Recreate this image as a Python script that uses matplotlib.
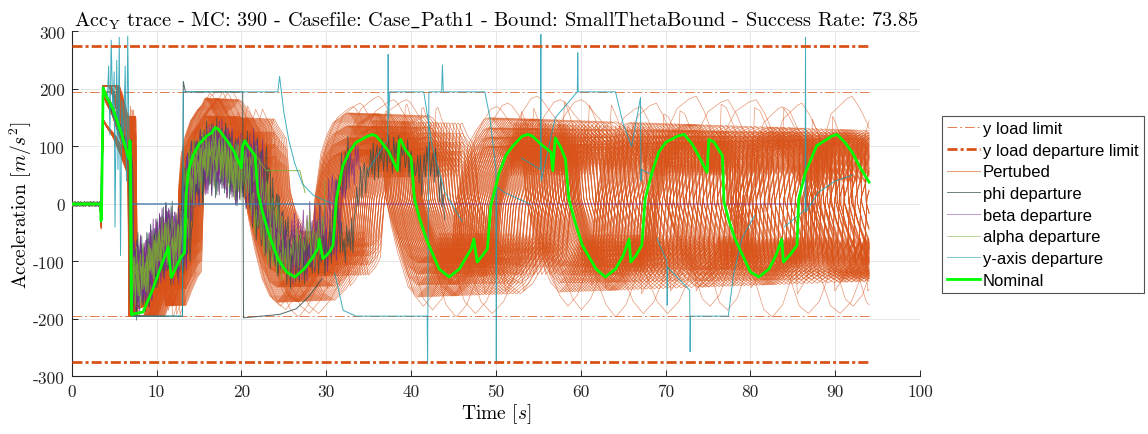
import numpy as np
import matplotlib
matplotlib.use("Agg")
import matplotlib.pyplot as plt
from matplotlib.lines import Line2D

# ---------------------------------------------------------------- data
# nominal lateral acceleration (time [s], acceleration [m/s^2])
nom_t = [0, 3.4, 3.45, 3.5, 3.7, 4.0, 4.9, 5.8, 6.5, 6.75, 6.85, 6.9, 7.05, 7.3,
         8.4, 9.5, 10.5, 11.37, 11.5, 11.76, 12.3, 12.9, 13.3, 13.5, 13.8, 14.3,
         15.0, 15.9, 16.5, 16.9, 17.3, 18.2, 19.0, 20.0, 20.15, 20.4, 20.8, 21.2,
         21.6, 21.95, 22.5, 23.3, 24.3, 25.3, 26.3, 27.4, 28.3, 29.0, 29.2, 29.6,
         30.0, 30.4, 30.8, 31.2, 31.95, 32.7, 33.5, 34.9, 35.5, 35.9, 36.6, 37.4,
         38.4, 38.6, 38.8, 39.3, 40.0, 40.4, 41.0, 41.8, 43.3, 44.5, 45.7, 46.4,
         47.1, 47.4, 47.8, 48.4, 49.0, 49.4, 50.4, 51.2, 52.0, 53.1, 53.8, 54.3,
         55.4, 56.5, 56.7, 57.0, 57.6, 58.2, 58.6, 59.3, 60.2, 61.8, 62.9, 64.1,
         65.0, 65.7, 65.9, 66.5, 67.2, 67.6, 68.4, 69.2, 70.0, 71.4, 72.2, 73.1,
         73.9, 74.9, 75.1, 75.7, 76.7, 76.9, 77.5, 78.2, 80.0, 81.0, 82.2, 83.0,
         83.7, 83.9, 84.7, 85.5, 85.7, 86.5, 87.8, 89.6, 90.2, 91.1, 92.0, 93.0, 94.0]
nom_a = [0, 0, -29, -25, 202, 190, 164, 125, 90, 78, 110, 105, -193, -191,
         -188, -150, -110, -75, -95, -128, -110, -92, -85, 20, 60, 84,
         104, 118, 124, 133, 130, 112, 95, 63, 100, 110, 100, 92,
         84, 20, -15, -55, -95, -118, -127, -113, -95, -78, -61, -95,
         -90, -83, -72, 9, 66, 90, 107, 118, 121, 118, 106, 90,
         58, 110, 112, 95, 81, 9, -25, -61, -113, -127, -113, -95,
         -78, -61, -101, -90, -78, -3, 55, 85, 101, 118, 121, 118,
         103, 90, 58, 115, 100, 78, 9, -30, -72, -113, -127, -113,
         -90, -61, -101, -90, -72, 9, 55, 90, 107, 118, 121, 105,
         84, 55, 112, 108, 84, 3, -30, -61, -118, -127, -113, -90,
         -61, -101, -88, -72, 9, 55, 101, 118, 121, 108, 90, 62, 38]

t_end = 94.0            # simulated time span
cycle = 18.2            # length of one manoeuvre cycle [s]
y_load_limit = 195
y_departure_limit = 275

# Monte Carlo runs: time-scale factors and gains of the perturbed runs
pert_stretch = [-0.170, 0.100, -0.162, 0.094, -0.154, 0.088, -0.146, 0.082, -0.138,
                0.076, -0.131, 0.070, -0.124, 0.064, -0.117, 0.058, -0.110, 0.052,
                -0.103, 0.046, -0.096, 0.040, -0.089, 0.034, -0.082, 0.028, -0.075,
                0.022, -0.068, 0.016, -0.061, 0.010, -0.055, 0.005, -0.049, 0.000,
                -0.043, -0.005, -0.037, -0.010, -0.031, -0.015, -0.026, -0.020,
                -0.023, -0.018, -0.012, -0.007]
pert_gain = [0.86, 0.97, 1.08, 1.20]
# how strongly the gain spread acts over the flight
spread_t = [0, 17, 40, 60, 94]
spread_w = [2.0, 1.9, 1.4, 1.0, 0.3]
# a few strongly amplified runs
wide_stretch = [-0.07, 0.05, -0.02, 0.08, -0.11]
wide_gain = [1.50, 1.45, 1.55, 1.40, 1.50]

# measurement jitter pattern of the departing runs
jitter = [0.0, 0.8, -0.5, 1.0, -0.9, 0.3, 0.7, -1.0, 0.5, -0.2, 0.9, -0.7, 0.1,
          0.6, -0.8, 1.0, -0.4, 0.2, -1.0, 0.8, -0.3, 0.5, -0.6, 0.9, -0.9, 0.4,
          0.0, 0.7, -0.5, -0.1, 1.0, -0.8, 0.3, 0.6, -1.0, 0.2, -0.4]

# departing runs: time-scale, gain, jitter amplitude, departure time
phi_stretch = [0.02, -0.05, 0.06, -0.03, 0.00, -0.08, 0.04]
phi_gain = [0.62, 0.58, 0.72, 0.55, 0.80, 0.74, 0.60]
phi_noise = [45, 60, 40, 55, 50, 35, 50]
phi_end = [22.0, 24.5, 26.0, 20.5, 33.0, 44.0, 18.5]
beta_stretch = [-0.01, 0.04, -0.06, 0.03, -0.02, 0.01]
beta_gain = [0.60, 0.72, 0.66, 0.55, 0.82, 0.62]
beta_noise = [55, 45, 60, 50, 40, 55]
beta_end = [13.0, 21.5, 23.0, 31.5, 34.0, 19.5]
alpha_stretch = [0.01, -0.04, 0.05]
alpha_gain = [0.66, 0.60, 0.76]
alpha_noise = [35, 45, 40]
alpha_end = [20.5, 25.0, 30.0]

# individually logged departures (time, acceleration)
phi_sat_t = [0, 3.4, 3.7, 6.8, 7.05, 13.05, 13.15, 13.4, 20.15, 20.25, 24.5, 26.5, 28.0, 29.5]
phi_sat_a = [0, 0, 200, 80, -195, -195, 213, 195, 195, -198, -192, -182, -160, -130]
beta_zero_t = [6.85, 6.95, 87.6]
beta_zero_a = [100, 0, 0]
alpha_hold_t = [21.0, 22.9, 26.9, 27.5]
alpha_hold_a = [100, 58, 58, 20]
yax1_t = [3.45, 3.7, 4.2, 4.35, 4.5, 4.65, 4.85, 5.0, 5.1, 5.3, 5.45, 5.6, 5.75, 5.9,
          6.1, 6.3, 6.45, 6.6, 6.75, 6.85, 7.05, 13.05, 13.15, 24.3, 24.5, 25.0,
          25.6, 26.3, 27.2, 28.5, 30.0, 31.0]
yax1_a = [0, 205, 180, 240, 120, 285, 150, 230, -40, 250, 60, 290, -90, 180,
          110, 240, 40, 292, 110, 60, -195, -195, 195, 195, 222, 160,
          110, 70, 35, 15, 5, 0]
yax0_t = [6.9, 7.0, 30.0]
yax0_a = [80, 0, 0]
yax2_t = [31.0, 32.0, 33.5, 41.3, 41.9, 41.95, 42.1, 43.6, 43.7, 43.8, 48.7, 49.3,
          50.0, 50.05, 50.1, 51.0, 52.5, 54.0]
yax2_a = [-120, -185, -195, -195, -195, -278, 195, 195, 242, 195, 195, 150,
          60, -278, 30, 20, 10, 0]
yax3_t = [35.0, 36.5, 37.25, 37.3, 37.35, 37.5, 41.5, 42.5, 44.0, 46.0]
yax3_a = [60, 95, 110, 260, 150, 195, 195, 100, 20, -30]
yax4_t = [53.0, 55.25, 55.3, 55.35, 57.0, 59.6, 59.65, 59.7, 64.1, 65.0, 66.0,
          67.05, 67.1, 67.15, 68.5]
yax4_a = [80, 60, 295, 40, 150, 195, 263, 195, 195, 140, 100, 185, 40, 60, 50]
yax5_t = [69.0, 70.15, 70.2, 70.25, 72.85, 72.9, 72.95, 77.4, 78.0, 79.0, 80.5]
yax5_a = [-60, -100, -176, -110, -150, -257, -195, -195, -124, -60, -20]
yax6_t = [84.0, 86.45, 86.5, 86.55, 88.0, 90.0, 92.0]
yax6_a = [-40, -10, 290, -14, 20, 40, 50]

# ---------------------------------------------------------------- style
ORANGE = "#D95319"
NOMINAL = "#00FF00"
PHI = "#2F4F4F"
BETA = "#7E2F8E"
ALPHA = "#77AC30"
YAX = "#1F9FB4"

plt.rcParams["font.family"] = "cmr10"
plt.rcParams["mathtext.fontset"] = "cm"
plt.rcParams["axes.unicode_minus"] = False
plt.rcParams["axes.formatter.use_mathtext"] = False

fig = plt.figure(figsize=(11.48, 4.35), dpi=100)
ax = fig.add_axes([0.0625, 0.1322, 0.8014 - 0.0625, 0.9253 - 0.1322])

nt = np.array(nom_t)
na = np.array(nom_a)


def nominal_at(tau):
    tau = np.where(tau > t_end, tau - cycle, tau)
    return np.interp(tau, nt, na)


def warped(t, stretch):
    return np.where(t < 3.5, t, 3.5 + (t - 3.5) * (1.0 + stretch))


# limit lines
thin_dash = (0, (10, 3, 2, 3))
thick_dash = (0, (3.6, 1.1, 1.1, 1.1))
for s in (1, -1):
    ax.plot([0, t_end], [s * y_load_limit] * 2, color=ORANGE, lw=0.7,
            alpha=0.75, linestyle=thin_dash, zorder=2)
    ax.plot([0, t_end], [s * y_departure_limit] * 2, color=ORANGE, lw=2.0,
            linestyle=thick_dash, zorder=6)

# perturbed runs
tf = np.arange(0, t_end + 1e-9, 0.02)
weight = np.interp(tf, spread_t, spread_w)
for g in pert_gain:
    for r in pert_stretch:
        a = nominal_at(warped(tf, r)) * (1.0 + (g - 1.0) * weight)
        a = np.clip(a, -y_load_limit, 205)
        ax.plot(tf, a, color=ORANGE, lw=0.45, alpha=0.75, zorder=3)
for r, g in zip(wide_stretch, wide_gain):
    a = np.clip(nominal_at(warped(tf, r)) * g, -y_load_limit, y_load_limit)
    ax.plot(tf, a, color=ORANGE, lw=0.5, alpha=0.6, zorder=3)

# departing runs
jit = np.array(jitter)


def departing(stretch, gain, noise, t_stop, offset):
    tc = np.arange(0, t_stop, 0.15)
    base = nominal_at(warped(tc, stretch))
    base = np.where(tc > 7.1, base * gain, base)
    idx = (np.arange(tc.size) + offset) % jit.size
    amp = np.where(tc > 7.1, noise, 4.0)
    return tc, base + amp * jit[idx]


k = 0
for group, col in ((zip(phi_stretch, phi_gain, phi_noise, phi_end), PHI),
                   (zip(beta_stretch, beta_gain, beta_noise, beta_end), BETA),
                   (zip(alpha_stretch, alpha_gain, alpha_noise, alpha_end), ALPHA)):
    for r, g, n, te in group:
        tc, a = departing(r, g, n, te, 5 * k)
        ax.plot(tc, a, color=col, lw=0.6, alpha=0.8, zorder=4)
        k += 1

ax.plot(phi_sat_t, phi_sat_a, color=PHI, lw=0.7, alpha=0.85, zorder=4)
ax.plot(beta_zero_t, beta_zero_a, color=BETA, lw=0.7, alpha=0.85, zorder=4)
ax.plot(alpha_hold_t, alpha_hold_a, color=ALPHA, lw=0.7, alpha=0.85, zorder=4)
for tt, aa in ((yax0_t, yax0_a), (yax1_t, yax1_a), (yax2_t, yax2_a), (yax3_t, yax3_a),
               (yax4_t, yax4_a), (yax5_t, yax5_a), (yax6_t, yax6_a)):
    ax.plot(tt, aa, color=YAX, lw=0.7, alpha=0.85, zorder=4)

# nominal
ax.plot(nom_t, nom_a, color=NOMINAL, lw=2.0, zorder=5)

# ---------------------------------------------------------------- axes
ax.set_xlim(0, 100)
ax.set_ylim(-300, 300)
ax.set_xticks(np.arange(0, 101, 10))
ax.set_yticks(np.arange(-300, 301, 100))
ax.grid(True, color="#e3e3e3", lw=0.6, zorder=0)
ax.set_axisbelow(True)
for side in ("top", "right"):
    ax.spines[side].set_visible(False)
for side in ("left", "bottom"):
    ax.spines[side].set_color("#262626")
    ax.spines[side].set_linewidth(0.8)
ax.tick_params(direction="in", length=4, width=0.7, labelsize=12.5, colors="#262626",
               pad=5)
ax.set_xlabel(r"Time $[s]$", fontsize=14, labelpad=2)
ax.set_ylabel(r"Acceleration $[m/s^2]$", fontsize=14, labelpad=-1)
ax.set_title(r"Acc$_\mathrm{Y}$ trace - MC: 390 - Casefile: Case$\_$Path1 - Bound: "
             r"SmallThetaBound - Success Rate: 73.85", fontsize=14.6, pad=4)

handles = [
    Line2D([], [], color=ORANGE, lw=0.7, alpha=0.75, linestyle=thin_dash),
    Line2D([], [], color=ORANGE, lw=2.0, linestyle=thick_dash),
    Line2D([], [], color=ORANGE, lw=0.7, alpha=0.6),
    Line2D([], [], color=PHI, lw=0.7, alpha=0.7),
    Line2D([], [], color=BETA, lw=0.7, alpha=0.5),
    Line2D([], [], color=ALPHA, lw=0.7, alpha=0.5),
    Line2D([], [], color=YAX, lw=0.7, alpha=0.6),
    Line2D([], [], color=NOMINAL, lw=2.0),
]
labels = ["y load limit", "y load departure limit", "Pertubed", "phi departure",
          "beta departure", "alpha departure", "y-axis departure", "Nominal"]
leg = fig.legend(handles, labels, loc="upper left", bbox_to_anchor=(0.8206, 0.731),
                 bbox_transform=fig.transFigure, borderaxespad=0,
                 prop={"family": "Liberation Sans", "size": 12}, frameon=True,
                 fancybox=False, edgecolor="#262626", handlelength=2.0,
                 handletextpad=0.15, labelspacing=0.4, borderpad=0.3)
leg.get_frame().set_linewidth(0.8)

fig.savefig("out.png", dpi=100)
